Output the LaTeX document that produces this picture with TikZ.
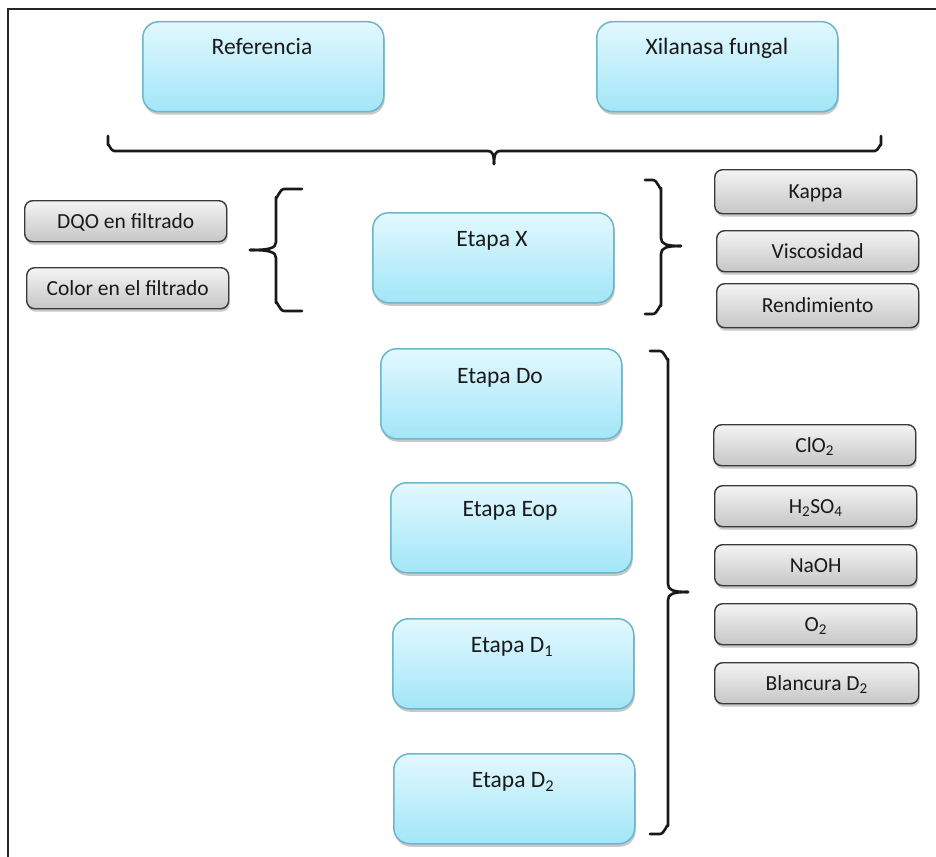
\documentclass[tikz,border=0pt]{standalone}
\usepackage{fontspec}
\setmainfont{Carlito}
\usetikzlibrary{shadows}
\definecolor{bluetop}{HTML}{E2F8FE}
\definecolor{bluebot}{HTML}{A2E6F8}
\definecolor{blueedge}{HTML}{6CB6CC}
\definecolor{graytop}{HTML}{F4F4F4}
\definecolor{graybot}{HTML}{C6C6C6}
\definecolor{grayedge}{HTML}{3A3A3A}
\definecolor{txt}{HTML}{1A1A1A}
\tikzset{
  bluebox/.style={draw=blueedge, line width=1.5pt, rounded corners=16pt,
    top color=bluetop, bottom color=bluebot, anchor=north west, inner sep=0pt,
    minimum width=241pt, minimum height=90pt,
    drop shadow={shadow xshift=1pt, shadow yshift=-3pt, opacity=0.3, fill=black!70}},
  graybox/.style={draw=grayedge, line width=1.4pt, rounded corners=8pt,
    top color=graytop, bottom color=graybot, anchor=north west, inner sep=0pt,
    minimum width=202pt, minimum height=41pt, text=txt,
    font=\fontsize{21.5}{24}\selectfont, text height=14pt, text depth=0pt,
    drop shadow={shadow xshift=1pt, shadow yshift=-3pt, opacity=0.3, fill=black!70}},
  boxtext/.style={text=txt, font=\fontsize{23.5}{26}\selectfont, anchor=center,
    inner sep=0pt, text height=15pt, text depth=0pt},
  bracestyle/.style={line width=2.6pt, draw=black!90, line cap=round, line join=round},
}
\begin{document}
\begin{tikzpicture}[x=1pt,y=-1pt]
\useasboundingbox (0,0) rectangle (936,856);
\fill[white] (0,0) rectangle (936,856);
% frame
\draw[line width=2.6pt, black!85] (8,857) -- (8,9) -- (937,9);

% blue boxes
\node[bluebox] (ref) at (142,21) {};
\node[boxtext] (reft) at (262,47) {Referencia};
\node[bluebox] (xil) at (596,21) {};
\node[boxtext] (xilt) at (717,47) {Xilanasa fungal};
\node[bluebox] (ex) at (372,212) {};
\node[boxtext] (ext) at (492,239) {Etapa X};
\node[bluebox] (edo) at (380,348) {};
\node[boxtext] (edot) at (500,376) {Etapa Do};
\node[bluebox] (eeop) at (390,482) {};
\node[boxtext] (eeopt) at (510,509) {Etapa Eop};
\node[bluebox] (ed1) at (392,618) {};
\node[boxtext] (ed1t) at (512,645) {Etapa D\textsubscript{1}};
\node[bluebox] (ed2) at (393,753) {};
\node[boxtext] (ed2t) at (513,780) {Etapa D\textsubscript{2}};

% gray boxes
\node[graybox] (dqo) at (24,200) {DQO en filtrado};
\node[graybox] (col) at (26,267) {Color en el filtrado};
\node[graybox, minimum height=44pt] (kap) at (714,169) {Kappa};
\node[graybox] (vis) at (716,230) {Viscosidad};
\node[graybox, minimum height=44pt] (ren) at (716,283) {Rendimiento};
\node[graybox] (clo) at (713,424) {ClO\textsubscript{2}};
\node[graybox] (hso) at (714,485) {H\textsubscript{2}SO\textsubscript{4}};
\node[graybox] (naoh) at (714,544) {NaOH};
\node[graybox] (oo) at (714,603) {O\textsubscript{2}};
\node[graybox, minimum width=204pt] (bla) at (714,662) {Blancura D\textsubscript{2}};

% top horizontal brace
\draw[bracestyle] (108,136) -- (108,145) to[out=90,in=180] (114,151) -- (488,151)
   .. controls (492,151) and (494,154) .. (494,164);
\draw[bracestyle] (881,136) -- (881,145) to[out=90,in=0] (875,151) -- (500,151)
   .. controls (496,151) and (494,154) .. (494,164);

% left brace near Etapa X
\draw[bracestyle] (302,189) -- (284,189) to[out=180,in=-90] (276,197) -- (276,242)
   .. controls (276,248) and (270,250) .. (250,250);
\draw[bracestyle] (302,311) -- (284,311) to[out=180,in=90] (276,303) -- (276,258)
   .. controls (276,252) and (270,250) .. (250,250);

% right brace near Etapa X
\draw[bracestyle] (645,180) -- (653,180) to[out=0,in=-90] (661,188) -- (661,238)
   .. controls (661,244) and (666,246) .. (681,246);
\draw[bracestyle] (645,314) -- (653,314) to[out=0,in=90] (661,306) -- (661,254)
   .. controls (661,248) and (666,246) .. (681,246);

% big right brace
\draw[bracestyle] (650,351) -- (660,351) to[out=0,in=-90] (668,359) -- (668,584)
   .. controls (668,590) and (673,592) .. (688,592);
\draw[bracestyle] (650,834) -- (660,834) to[out=0,in=90] (668,826) -- (668,600)
   .. controls (668,594) and (673,592) .. (688,592);
\end{tikzpicture}
\end{document}
